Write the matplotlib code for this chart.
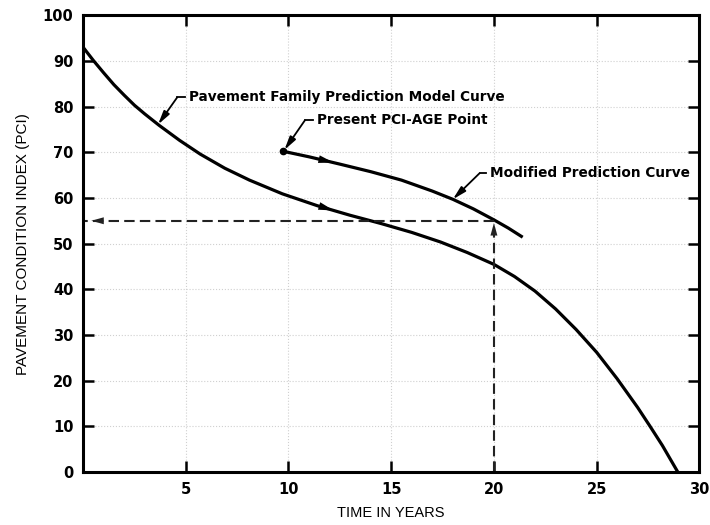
import matplotlib
matplotlib.use('Agg')

import numpy as np
import matplotlib.pyplot as plt

# === Data ===
family_age = [0, 0.5, 1, 1.5, 2, 2.5, 3, 3.7, 4.7, 5.7, 6.9, 8.1, 9.7, 11.4, 13, 14.5,
              16, 17.4, 18.7, 20, 21, 22, 23, 24, 25, 26, 27, 27.6, 28.2, 28.6, 28.95]
family_pci = [93, 90.1, 87.4, 84.8, 82.5, 80.3, 78.4, 75.9, 72.6, 69.6, 66.5, 63.9, 60.9,
              58.3, 56.2, 54.4, 52.45, 50.35, 48.05, 45.45, 42.8, 39.6, 35.7, 31.2, 26.2,
              20.4, 14.1, 10.0, 5.8, 2.7, 0]

modified_age = [9.75, 11, 12.5, 14, 15.5, 17, 18, 19, 20, 20.7, 21.4]
modified_pci = [70.2, 69.0, 67.4, 65.75, 63.9, 61.5, 59.7, 57.6, 55.2, 53.4, 51.4]

present_age = 9.75
present_pci = 70.2
target_age = 20
target_pci = 55

x_ticks = [5, 10, 15, 20, 25, 30]
y_ticks = list(range(0, 101, 10))

label_family = "Pavement Family Prediction Model Curve"
label_present = "Present PCI-AGE Point"
label_modified = "Modified Prediction Curve"

# === Figure ===
fig = plt.figure(figsize=(7.1, 5.25), dpi=100)
ax = fig.add_axes([0.117, 0.101, 0.868, 0.870])

ax.plot(family_age, family_pci, color='black', lw=2.3, solid_capstyle='butt',
        solid_joinstyle='round')
ax.plot(modified_age, modified_pci, color='black', lw=2.3, solid_capstyle='butt',
        solid_joinstyle='round')
ax.plot([present_age], [present_pci], 'o', color='black', ms=4.5)

# direction arrows on the curves
def curve_arrow(xs, ys, x0, x1):
    y0 = np.interp(x0, xs, ys)
    y1 = np.interp(x1, xs, ys)
    ax.annotate('', xy=(x1, y1), xytext=(x0, y0),
                arrowprops=dict(arrowstyle='-|>,head_length=1.1,head_width=0.28',
                                color='black', lw=0, shrinkA=0, shrinkB=0))

curve_arrow(family_age, family_pci, 11.0, 12.2)
curve_arrow(modified_age, modified_pci, 11.0, 12.2)

# dashed read-off lines
dash_kw = dict(color='#222222', lw=1.5, dashes=[5, 2.5])
ax.plot([target_age, 0], [target_pci, target_pci], **dash_kw)
ax.plot([target_age, target_age], [0, target_pci], **dash_kw)
head_kw = dict(arrowstyle='-|>,head_length=0.9,head_width=0.25',
               color='#222222', lw=0, shrinkA=0, shrinkB=0)
ax.annotate('', xy=(0.4, target_pci), xytext=(1.4, target_pci), arrowprops=head_kw)
ax.annotate('', xy=(target_age, target_pci - 0.5), xytext=(target_age, target_pci - 5),
            arrowprops=head_kw)

# leader lines with labels
def leader(pt, elbow, end, text):
    ax.annotate('', xy=pt, xytext=elbow,
                arrowprops=dict(arrowstyle='-|>,head_length=0.8,head_width=0.2',
                                color='black', lw=1.3, shrinkA=0, shrinkB=0))
    ax.plot([elbow[0], end[0]], [elbow[1], end[1]], color='black', lw=1.3)
    ax.text(end[0] + 0.2, end[1], text, fontsize=9.8, fontweight='bold',
            va='center', ha='left')

fx = 3.65
leader((fx, np.interp(fx, family_age, family_pci)), (4.58, 82), (4.97, 82), label_family)
leader((present_age + 0.05, present_pci + 0.3), (10.8, 77), (11.2, 77), label_present)
mx = 18.0
leader((mx, np.interp(mx, modified_age, modified_pci)), (19.3, 65.4), (19.6, 65.4), label_modified)

# === Axes styling ===
ax.set_xlim(0, 30)
ax.set_ylim(0, 100)
ax.set_xticks(x_ticks)
ax.set_yticks(y_ticks)
ax.grid(True, linestyle=':', color='#d0d0d0', lw=0.8)
ax.set_axisbelow(True)
for s in ax.spines.values():
    s.set_linewidth(2.2)
ax.tick_params(direction='in', length=8, width=1.8, top=True, right=True,
               labelsize=10.5, pad=7)
for lbl in ax.get_xticklabels() + ax.get_yticklabels():
    lbl.set_fontweight('bold')

ax.set_xlabel("TIME IN YEARS", fontsize=10.5, family='Liberation Sans', labelpad=7)
ax.set_ylabel("PAVEMENT CONDITION INDEX (PCI)", fontsize=11, family='Liberation Sans',
              labelpad=9)

fig.savefig('out.png', dpi=100)
